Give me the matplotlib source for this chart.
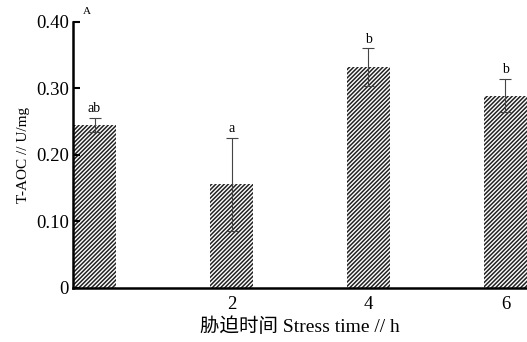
import matplotlib.pyplot as plt

plt.rcParams["font.family"] = ["Liberation Serif", "Noto Sans CJK SC"]
plt.rcParams["hatch.linewidth"] = 1.1

# data
times = [0, 2, 4, 6]
tick_labels = ["", "2", "4", "6"]
taoc = [0.245, 0.156, 0.332, 0.289]
err = [0.011, 0.070, 0.028, 0.025]
letters = ["ab", "a", "b", "b"]

fig = plt.figure(figsize=(5.27, 3.42), dpi=100)
ax = fig.add_axes([0.1385, 0.158, 0.8615, 0.778])

ax.bar(times, taoc, width=0.63, color="white", edgecolor="#222222",
       hatch="////////", linewidth=0)
ax.errorbar(times, taoc, yerr=err, fmt="none", ecolor="#444444",
            elinewidth=0.8, capsize=4, capthick=0.8)

for x, y, e, s in zip(times, taoc, err, letters):
    ax.text(x, y + e + 0.004, s, ha="center", va="bottom", fontsize=10)

ax.set_xlim(-0.315, 6.315)
ax.set_ylim(0, 0.40)
ax.set_xticks(times)
ax.set_xticklabels(tick_labels)
ax.set_yticks([0, 0.10, 0.20, 0.30, 0.40])
ax.set_yticklabels(["0", "0.10", "0.20", "0.30", "0.40"])
ax.tick_params(axis="y", direction="in", length=5, width=1.5, labelsize=13.5, pad=3)
ax.tick_params(axis="x", length=0, labelsize=13.5, pad=6)

for side in ["top", "right"]:
    ax.spines[side].set_visible(False)
for side in ["left", "bottom"]:
    ax.spines[side].set_linewidth(1.8)

ax.set_ylabel("T-AOC // U/mg", fontsize=11, labelpad=4)
ax.set_xlabel("胁迫时间 Stress time // h", fontsize=14, labelpad=3)
fig.text(0.165, 0.965, "A", fontsize=8, ha="center", va="center")

plt.savefig("out.png", dpi=100)
plt.close()
